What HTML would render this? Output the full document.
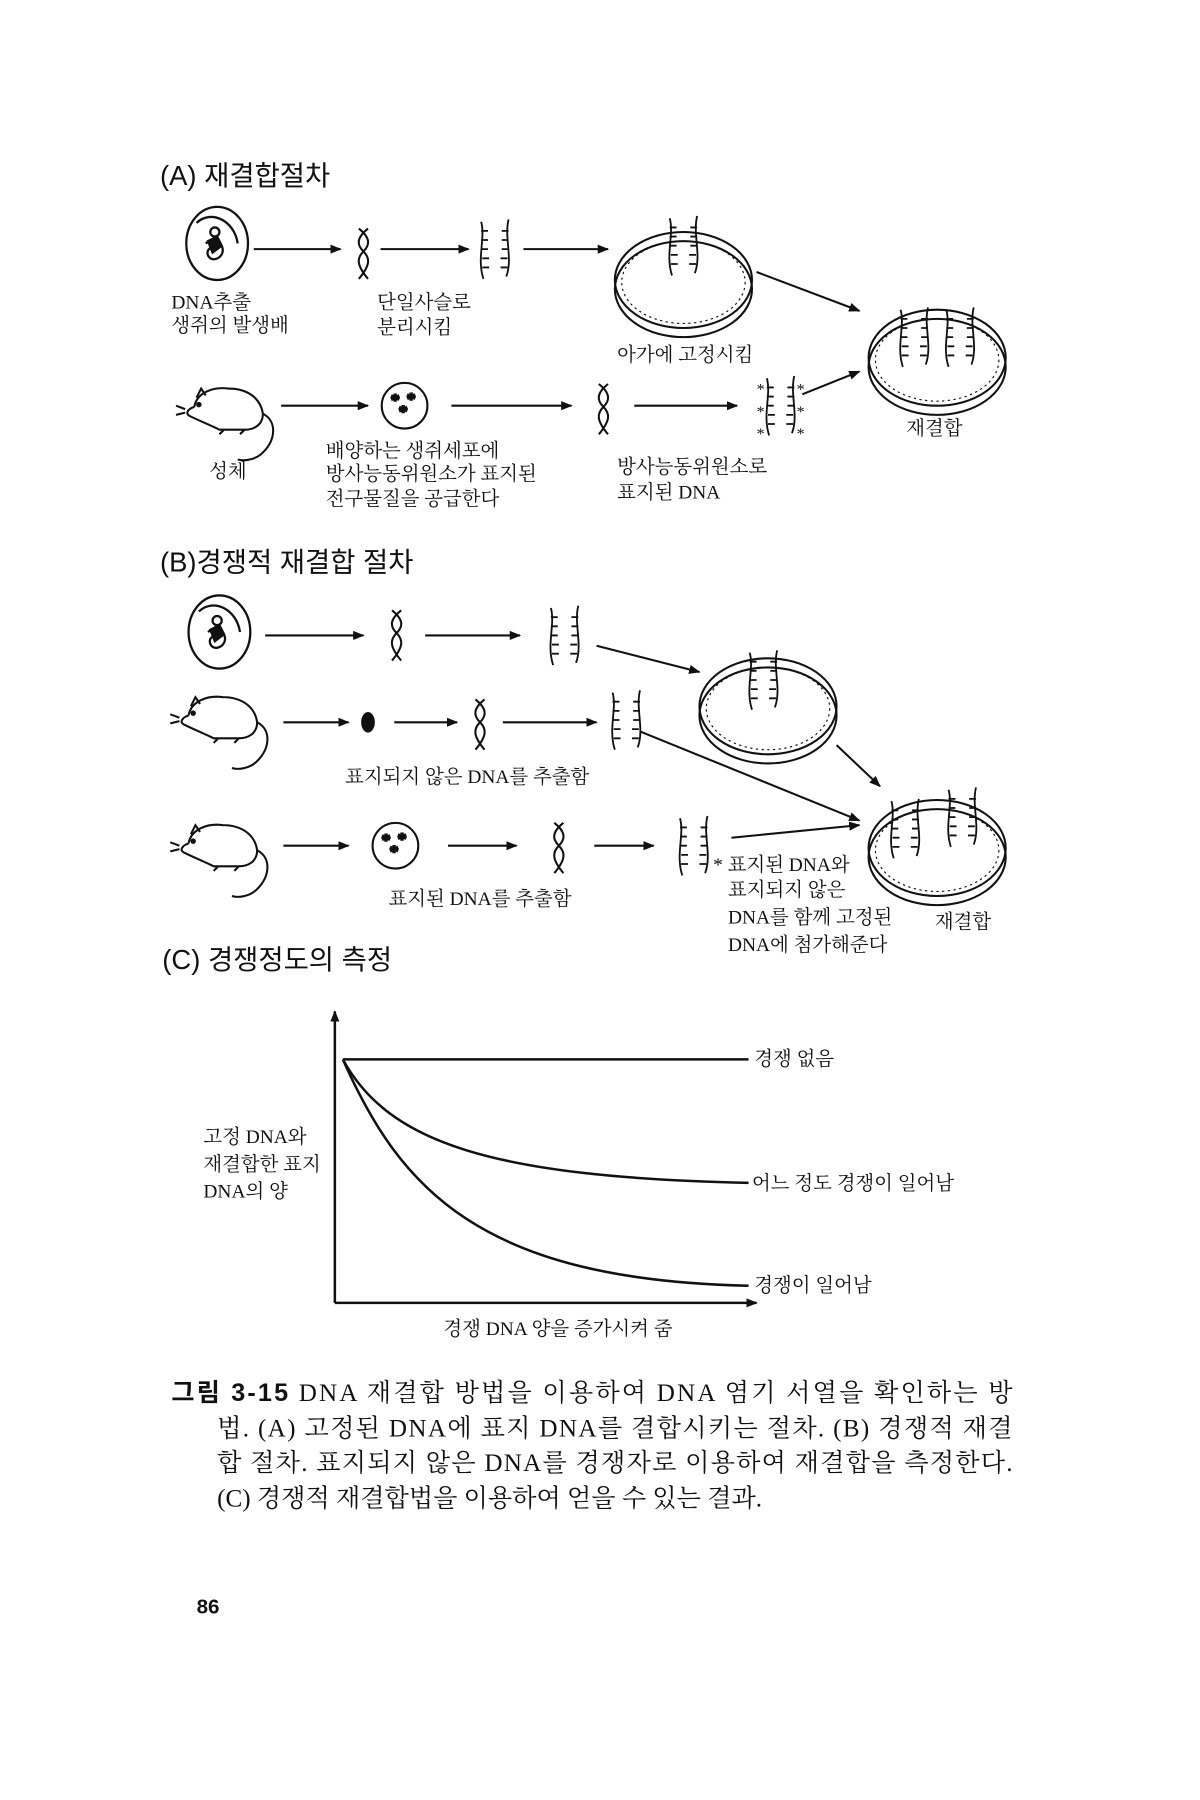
<!DOCTYPE html>
<html><head><meta charset="utf-8"><style>
html,body{margin:0;padding:0;background:#fff;}
svg{display:block;}
text{font-family:"Liberation Serif","Noto Serif CJK SC","Noto Sans CJK KR",serif;fill:#111;}
.s{font-size:17px;}
.h{font-size:24px;font-family:"Liberation Sans","Noto Sans CJK KR",sans-serif;}
.c{font-size:22px;}
</style></head><body>
<svg width="1200" height="1800" viewBox="0 0 1050 1575" xmlns="http://www.w3.org/2000/svg">
<defs>
<marker id="a" markerWidth="10" markerHeight="8" refX="9" refY="4" orient="auto" markerUnits="userSpaceOnUse"><path d="M0,0 L10,4 L0,8 Z" fill="#111"/></marker>
<g id="helix" fill="none" stroke="#111" stroke-width="1.8">
<path d="M-4,-22 C6,-14 6,-8 0,-2 C-6,4 -6,10 4,22"/>
<path d="M4,-22 C-6,-14 -6,-8 0,-2 C6,4 6,10 -4,22"/>
</g>
<g id="ladder" fill="none" stroke="#111" stroke-width="1.6">
<path d="M-12,-24 C-8,-10 -16,8 -10,26"/>
<path d="M12,-26 C8,-10 16,8 10,24"/>
<path d="M-12,-16h6M-12,-8h6M-12,0h6M-11,8h6M-11,16h6M12,-16h-6M12,-8h-6M12,0h-6M11,8h-6M11,16h-6"/>
</g>
<g id="dish" fill="none" stroke="#111" stroke-width="1.8">
<ellipse cx="0" cy="0" rx="60" ry="42"/>
<ellipse cx="0" cy="8" rx="60" ry="42"/>
<ellipse cx="0" cy="2" rx="54" ry="36" stroke-dasharray="2 3" stroke-width="1"/>
</g>
<g id="embryo" fill="none" stroke="#111" stroke-width="2">
<ellipse cx="0" cy="0" rx="27" ry="32"/>
<path d="M-18,-18 C-5,-30 15,-20 18,0 M-10,0 C0,-8 10,5 2,12 C-6,18 -12,8 -6,4 M-6,-10 a4,4 0 1 0 8,0 a4,4 0 1 0 -8,0"/>
<path d="M-8,-2 l8,-4 l4,8 l-8,6z" fill="#111"/>
</g>
<g id="mouse" fill="none" stroke="#111" stroke-width="1.8">
<path d="M-30,-2 C-28,-14 -14,-20 0,-18 C16,-18 28,-10 30,4 C30,14 22,18 14,18 L10,22 M-4,18 L-8,22 M-30,-2 C-36,0 -38,4 -34,6 C-26,10 -16,14 -8,18 L14,18"/>
<path d="M30,4 C42,10 42,26 30,38 C24,44 14,46 8,44"/>
<path d="M-38,0 l-8,-3 M-38,3 l-8,2 M-28,-10 l4,-8 l4,6"/>
<circle cx="-26" cy="-4" r="1.5" fill="#111"/>
</g>
<g id="cell" fill="none" stroke="#111" stroke-width="1.8">
<circle cx="0" cy="0" r="20"/>
<text x="-12" y="0" style="font-size:15px">*</text><text x="2" y="-1" style="font-size:15px">*</text><text x="-5" y="10" style="font-size:15px">*</text>
</g>
</defs>

<text class="h" x="140" y="162">(A) 재결합절차</text>
<use href="#embryo" x="190" y="213"/>
<g stroke="#111" stroke-width="1.8" marker-end="url(#a)">
<line x1="222" y1="218" x2="298" y2="218"/>
<line x1="333" y1="218" x2="410" y2="218"/>
<line x1="458" y1="218" x2="532" y2="218"/>
<line x1="662" y1="238" x2="752" y2="272"/>
<line x1="246" y1="355" x2="322" y2="355"/>
<line x1="395" y1="355" x2="500" y2="355"/>
<line x1="555" y1="355" x2="645" y2="355"/>
<line x1="702" y1="345" x2="752" y2="325"/>
</g>
<use href="#helix" x="318" y="222"/>
<use href="#ladder" x="433" y="218"/>
<use href="#dish" x="598" y="245"/>
<use href="#ladder" x="598" y="215"/>
<use href="#dish" x="820" y="313"/>
<use href="#ladder" x="800" y="295"/>
<use href="#ladder" x="840" y="295"/>
<text class="s" x="150" y="270">DNA추출</text>
<text class="s" x="150" y="290">생쥐의 발생배</text>
<text class="s" x="330" y="270">단일사슬로</text>
<text class="s" x="330" y="292">분리시킴</text>
<text class="s" x="540" y="316">아가에 고정시킴</text>
<use href="#mouse" x="200" y="358"/>
<use href="#cell" x="354" y="355"/>
<use href="#helix" x="528" y="358"/>
<use href="#ladder" x="683" y="355"/>
<text x="662" y="345" style="font-size:14px">*</text><text x="697" y="345" style="font-size:14px">*</text>
<text x="662" y="365" style="font-size:14px">*</text><text x="697" y="365" style="font-size:14px">*</text>
<text x="662" y="384" style="font-size:14px">*</text><text x="697" y="384" style="font-size:14px">*</text>
<text class="s" x="793" y="380">재결합</text>
<text class="s" x="183" y="418">성체</text>
<text class="s" x="285" y="400">배양하는 생쥐세포에</text>
<text class="s" x="285" y="420">방사능동위원소가 표지된</text>
<text class="s" x="285" y="442">전구물질을 공급한다</text>
<text class="s" x="540" y="414">방사능동위원소로</text>
<text class="s" x="540" y="436">표지된 DNA</text>

<text class="h" x="140" y="500">(B)경쟁적 재결합 절차</text>
<use href="#embryo" x="192" y="553"/>
<g stroke="#111" stroke-width="1.8" marker-end="url(#a)">
<line x1="232" y1="556" x2="318" y2="556"/>
<line x1="372" y1="556" x2="455" y2="556"/>
<line x1="522" y1="565" x2="612" y2="588"/>
<line x1="248" y1="632" x2="305" y2="632"/>
<line x1="345" y1="632" x2="400" y2="632"/>
<line x1="440" y1="632" x2="522" y2="632"/>
<line x1="560" y1="640" x2="752" y2="718"/>
<line x1="732" y1="652" x2="770" y2="688"/>
<line x1="248" y1="740" x2="305" y2="740"/>
<line x1="392" y1="740" x2="452" y2="740"/>
<line x1="520" y1="740" x2="572" y2="740"/>
<line x1="640" y1="733" x2="752" y2="722"/>
</g>
<use href="#helix" x="347" y="556"/>
<use href="#ladder" x="494" y="556"/>
<use href="#dish" x="672" y="618"/>
<use href="#ladder" x="668" y="595"/>
<use href="#mouse" x="195" y="628"/>
<ellipse cx="322" cy="632" rx="6" ry="9" fill="#111"/>
<use href="#helix" x="420" y="634"/>
<use href="#ladder" x="548" y="630"/>
<text class="s" x="302" y="685">표지되지 않은 DNA를 추출함</text>
<use href="#mouse" x="195" y="740"/>
<use href="#cell" x="346" y="740"/>
<use href="#helix" x="489" y="742"/>
<use href="#ladder" x="607" y="740"/>
<use href="#dish" x="820" y="742"/>
<use href="#ladder" x="792" y="725"/>
<use href="#ladder" x="842" y="715"/>
<text class="s" x="340" y="792">표지된 DNA를 추출함</text>
<text class="s" x="624" y="762">* 표지된 DNA와</text>
<text class="s" x="637" y="784">표지되지 않은</text>
<text class="s" x="637" y="808">DNA를 함께 고정된</text>
<text class="s" x="637" y="832">DNA에 첨가해준다</text>
<text class="s" x="818" y="812">재결합</text>

<text class="h" x="142" y="848">(C) 경쟁정도의 측정</text>
<g stroke="#111" stroke-width="2.2" fill="none">
<line x1="293" y1="1140" x2="293" y2="885" marker-end="url(#a)"/>
<line x1="293" y1="1140" x2="662" y2="1140" marker-end="url(#a)"/>
<line x1="300" y1="927" x2="655" y2="927"/>
<path d="M300,927 C340,1000 430,1030 655,1035"/>
<path d="M300,927 C350,1040 420,1120 655,1125"/>
</g>
<text class="s" x="660" y="932">경쟁 없음</text>
<text class="s" x="658" y="1041">어느 정도 경쟁이 일어남</text>
<text class="s" x="660" y="1130">경쟁이 일어남</text>
<text class="s" x="178" y="1000">고정 DNA와</text>
<text class="s" x="178" y="1024">재결합한 표지</text>
<text class="s" x="178" y="1048">DNA의 양</text>
<text class="s" x="388" y="1168">경쟁 DNA 양을 증가시켜 줌</text>

<text class="c" x="150" y="1226" textLength="736" lengthAdjust="spacing"><tspan font-weight="bold" font-family="Liberation Sans, Noto Sans CJK KR, sans-serif">그림 3-15</tspan> DNA 재결합 방법을 이용하여 DNA 염기 서열을 확인하는 방</text>
<text class="c" x="190" y="1257" textLength="696" lengthAdjust="spacing">법. (A) 고정된 DNA에 표지 DNA를 결합시키는 절차. (B) 경쟁적 재결</text>
<text class="c" x="190" y="1287" textLength="696" lengthAdjust="spacing">합 절차. 표지되지 않은 DNA를 경쟁자로 이용하여 재결합을 측정한다.</text>
<text class="c" x="190" y="1318">(C) 경쟁적 재결합법을 이용하여 얻을 수 있는 결과.</text>
<text x="172" y="1412" style="font-size:18px;font-weight:bold;font-family:'Liberation Sans',sans-serif">86</text>
</svg>
</body></html>
